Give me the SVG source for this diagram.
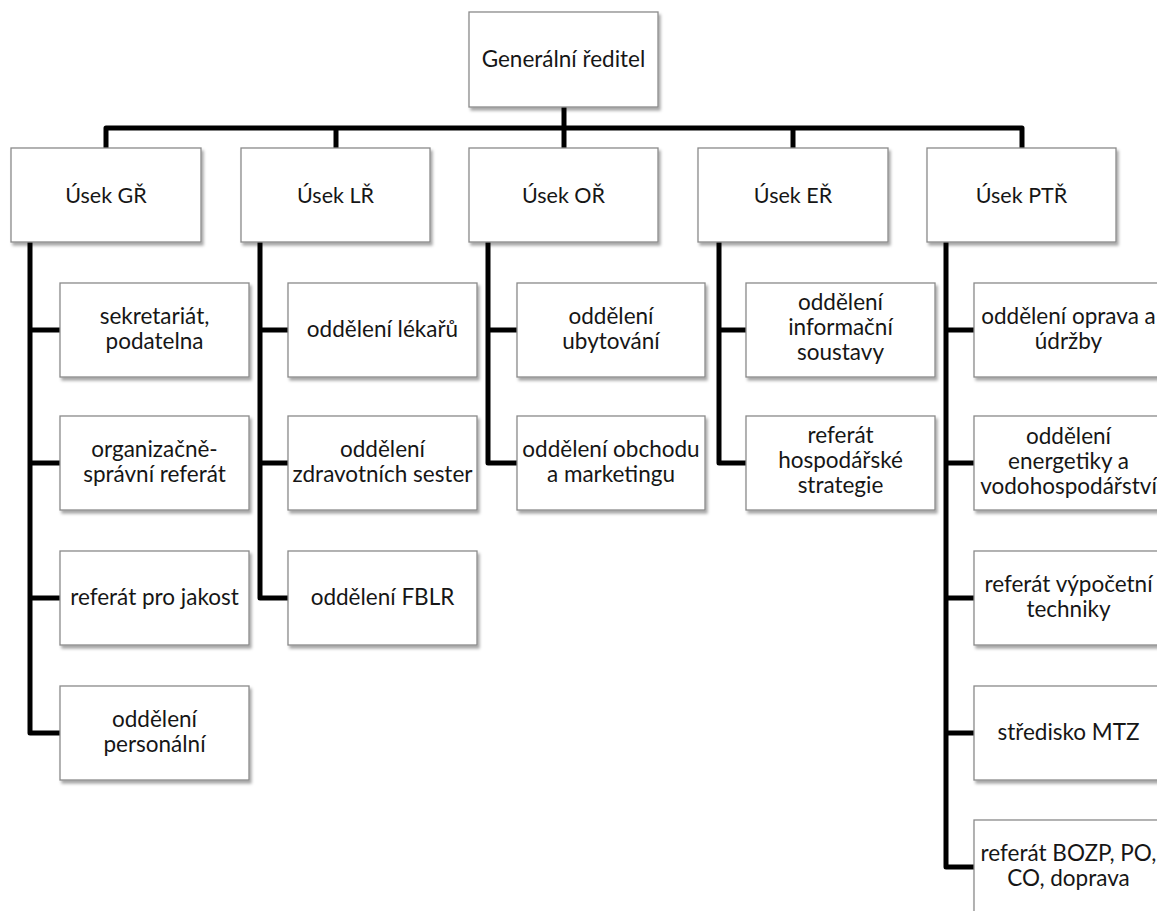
<svg xmlns="http://www.w3.org/2000/svg" width="1157" height="911" viewBox="0 0 1157 911">
<style>
  .box { fill: #ffffff; stroke: #8a8a8a; stroke-width: 1.3; filter: url(#sh); }
  .t { font-family: Lato, "Liberation Sans", sans-serif; font-size: 22.5px; fill: #161616; text-anchor: middle; }
  .h { font-size: 21.5px; }
  .c { fill: none; stroke: #000000; stroke-width: 5; stroke-linejoin: round; stroke-linecap: butt; }
</style>
<defs>
  <filter id="sh" x="-10%" y="-10%" width="125%" height="130%">
    <feDropShadow dx="2" dy="3" stdDeviation="1.6" flood-color="#000000" flood-opacity="0.35"/>
  </filter>
</defs>
<rect width="1157" height="911" fill="#ffffff"/>

<g id="connectors">
  <path class="c" d="M564,107 V148"/>
  <path class="c" d="M106,148 V128 H1022 V148"/>
  <path class="c" d="M336,128 V148"/>
  <path class="c" d="M793,128 V148"/>
  <path class="c" d="M30,242 V733 H60"/>
  <path class="c" d="M30,330 H60 M30,463 H60 M30,598 H60"/>
  <path class="c" d="M260,242 V598 H288"/>
  <path class="c" d="M260,330 H288 M260,463 H288"/>
  <path class="c" d="M488,242 V463 H517"/>
  <path class="c" d="M488,330 H517"/>
  <path class="c" d="M719,242 V463 H746"/>
  <path class="c" d="M719,330 H746"/>
  <path class="c" d="M946,242 V867 H974"/>
  <path class="c" d="M946,330 H974 M946,463 H974 M946,598 H974 M946,733 H974"/>
</g>

<g id="n-gr"><rect class="box" x="469" y="12" width="189" height="95"/><text class="t" x="563.5" y="67">Generální ředitel</text></g>

<g id="n-usek-gr"><rect class="box" x="11" y="148" width="190" height="94"/><text class="t h" x="106" y="203">Úsek GŘ</text></g>
<g id="n-usek-lr"><rect class="box" x="241" y="148" width="189" height="94"/><text class="t h" x="335.5" y="203">Úsek LŘ</text></g>
<g id="n-usek-or"><rect class="box" x="469" y="148" width="189" height="94"/><text class="t h" x="563.5" y="203">Úsek OŘ</text></g>
<g id="n-usek-er"><rect class="box" x="698" y="148" width="190" height="94"/><text class="t h" x="793" y="203">Úsek EŘ</text></g>
<g id="n-usek-ptr"><rect class="box" x="927" y="148" width="189" height="94"/><text class="t h" x="1021.5" y="203">Úsek PTŘ</text></g>

<g id="n-sekretariat"><rect class="box" x="60" y="283" width="189" height="94"/><text class="t" x="154.5" y="324">sekretariát,</text><text class="t" x="154.5" y="349">podatelna</text></g>
<g id="n-organizacne"><rect class="box" x="60" y="416" width="189" height="94"/><text class="t" x="154.5" y="457">organizačně-</text><text class="t" x="154.5" y="482">správní referát</text></g>
<g id="n-jakost"><rect class="box" x="60" y="551" width="189" height="94"/><text class="t" x="154.5" y="605">referát pro jakost</text></g>
<g id="n-personalni"><rect class="box" x="60" y="686" width="189" height="94"/><text class="t" x="154.5" y="727">oddělení</text><text class="t" x="154.5" y="752">personální</text></g>

<g id="n-lekaru"><rect class="box" x="288" y="283" width="189" height="94"/><text class="t" x="382.5" y="337">oddělení lékařů</text></g>
<g id="n-sester"><rect class="box" x="288" y="416" width="189" height="94"/><text class="t" x="382.5" y="457">oddělení</text><text class="t" x="382.5" y="482">zdravotních sester</text></g>
<g id="n-fblr"><rect class="box" x="288" y="551" width="189" height="94"/><text class="t" x="382.5" y="605">oddělení FBLR</text></g>

<g id="n-ubytovani"><rect class="box" x="517" y="283" width="188" height="94"/><text class="t" x="611" y="324">oddělení</text><text class="t" x="611" y="349">ubytování</text></g>
<g id="n-obchodu"><rect class="box" x="517" y="416" width="188" height="94"/><text class="t" x="611" y="457">oddělení obchodu</text><text class="t" x="611" y="482">a marketingu</text></g>

<g id="n-informacni"><rect class="box" x="746" y="283" width="189" height="94"/><text class="t" x="840.5" y="310">oddělení</text><text class="t" x="840.5" y="335">informační</text><text class="t" x="840.5" y="360">soustavy</text></g>
<g id="n-hospodarske"><rect class="box" x="746" y="416" width="189" height="94"/><text class="t" x="840.5" y="443">referát</text><text class="t" x="840.5" y="468">hospodářské</text><text class="t" x="840.5" y="493">strategie</text></g>

<g id="n-oprava"><rect class="box" x="974" y="283" width="189" height="94"/><text class="t" x="1068.5" y="324">oddělení oprava a</text><text class="t" x="1068.5" y="349">údržby</text></g>
<g id="n-energetiky"><rect class="box" x="974" y="416" width="189" height="94"/><text class="t" x="1068.5" y="444">oddělení</text><text class="t" x="1068.5" y="469">energetiky a</text><text class="t" x="1068.5" y="494">vodohospodářství</text></g>
<g id="n-vypocetni"><rect class="box" x="974" y="551" width="189" height="94"/><text class="t" x="1068.5" y="592">referát výpočetní</text><text class="t" x="1068.5" y="617">techniky</text></g>
<g id="n-mtz"><rect class="box" x="974" y="686" width="189" height="94"/><text class="t" x="1068.5" y="740">středisko MTZ</text></g>
<g id="n-bozp"><rect class="box" x="974" y="820" width="189" height="94"/><text class="t" x="1068.5" y="861">referát BOZP, PO,</text><text class="t" x="1068.5" y="886">CO, doprava</text></g>
</svg>
